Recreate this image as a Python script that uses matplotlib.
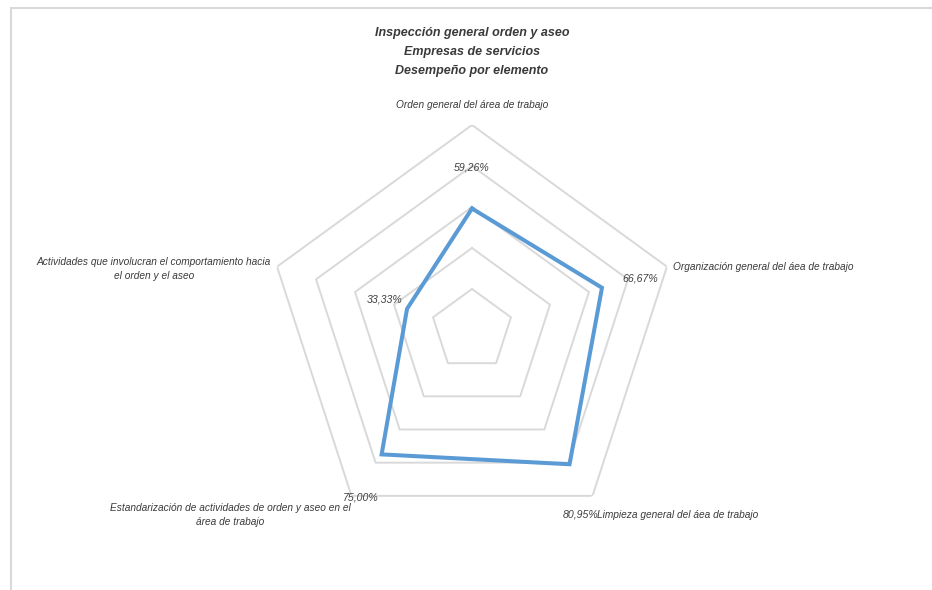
import numpy as np
import matplotlib
matplotlib.use('Agg')
from matplotlib import pyplot as plt
from matplotlib.patches import Rectangle

plt.rcParams['font.family'] = ['Liberation Sans', 'DejaVu Sans']

# data
categories = ['Orden general del área de trabajo',
              'Organización general del áea de trabajo',
              'Limpieza general del áea de trabajo',
              'Estandarización de actividades de orden y aseo en el\nárea de trabajo',
              'Actividades que involucran el comportamiento hacia\nel orden y el aseo']
values = [59.26, 66.67, 80.95, 75.00, 33.33]
ring_levels = [20, 40, 60, 80, 100]
title_lines = ['Inspección general orden y aseo',
               'Empresas de servicios',
               'Desempeño por elemento']

W, H = 932, 590
fig = plt.figure(figsize=(W / 100, H / 100), dpi=100)

# chart area border (cut off at right and bottom)
fig.patches.append(Rectangle((10.5 / W, -0.1), 1.2, 1.1 - 8 / H,
                             transform=fig.transFigure, fill=False,
                             edgecolor='#D9D9D9', lw=1.5, clip_on=False))

cx, cy, R = 472, 330, 205
ax = fig.add_axes([(cx - R) / W, (H - cy - R) / H, 2 * R / W, 2 * R / H],
                  projection='polar')
ax.set_theta_zero_location('N')
ax.set_theta_direction(-1)
ax.set_ylim(0, 100)
ax.grid(False)
ax.set_xticks([])
ax.set_yticks([])
ax.spines['polar'].set_visible(False)
ax.patch.set_visible(False)

n = len(categories)
theta = np.arange(n) * 2 * np.pi / n
theta_c = np.append(theta, theta[0])

for r in ring_levels:
    ax.plot(theta_c, [r] * (n + 1), color='#D9D9D9', lw=1.4, zorder=1)

ax.plot(theta_c, values + values[:1], color='#5B9BD5', lw=2.9,
        solid_joinstyle='miter', zorder=3)

# value labels (pixel offsets from points)
val_offsets = [(0, 41), (38, 9), (11, -50), (-21, -43), (-22, 9)]
for t, v, off in zip(theta, values, val_offsets):
    ax.annotate(f'{v:.2f}%'.replace('.', ','), xy=(t, v), xytext=off,
                textcoords='offset pixels', ha='center', va='center',
                fontsize=7.6, style='italic', color='#404040')

# category labels
cat_offsets = [(0, 20), (6, 0), (5, -19), (-121, -19), (-123, -2)]
cat_ha = ['center', 'left', 'left', 'center', 'center']
for t, lab, off, ha in zip(theta, categories, cat_offsets, cat_ha):
    ax.annotate(lab, xy=(t, ring_levels[-1]), xytext=off,
                textcoords='offset pixels', ha=ha, va='center',
                multialignment='center', fontsize=7.3, style='italic',
                color='#3a3a3a', linespacing=1.5)

for i, line in enumerate(title_lines):
    fig.text(472 / W, 1 - (33 + 19 * i) / H, line, ha='center', va='center',
             fontsize=9, fontweight='bold', style='italic', color='#3a3a3a')

fig.savefig('out.png', dpi=100)
